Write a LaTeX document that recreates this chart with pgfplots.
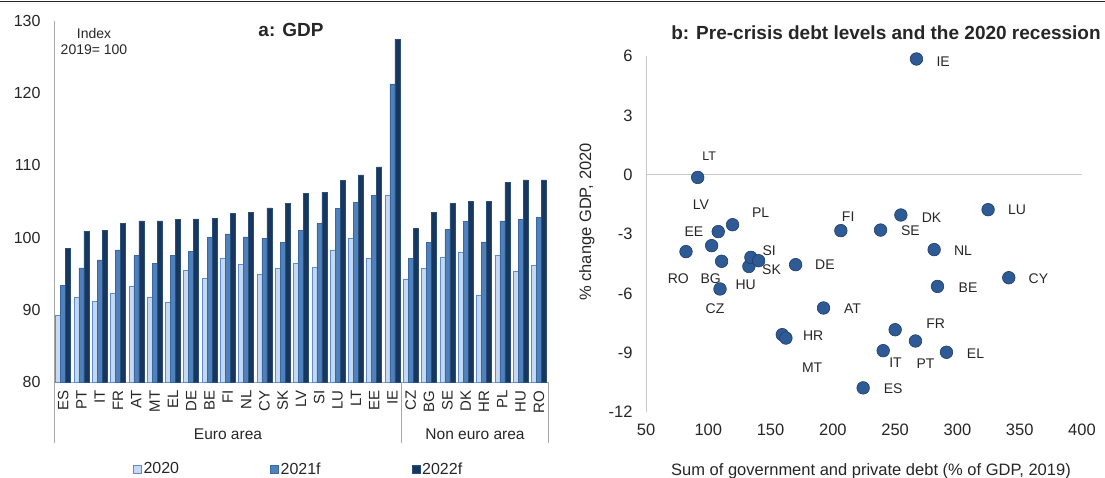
\documentclass[border=0pt]{standalone}
\usepackage{pgfplots}
\pgfplotsset{compat=1.18}
\usepackage{fontspec}
\setmainfont{Liberation Sans}
\definecolor{cA}{HTML}{C6D9F1}
\definecolor{cAb}{HTML}{5B8DD0}
\definecolor{cB}{HTML}{4F81BD}
\definecolor{cBb}{HTML}{3A68A3}
\definecolor{cC}{HTML}{17375E}
\definecolor{cCb}{HTML}{2A4D7A}
\definecolor{axg}{HTML}{A6A6A6}
\definecolor{zg}{HTML}{C8C8C8}
\definecolor{dotf}{HTML}{2E5B95}
\definecolor{dotb}{HTML}{1F3D66}
\definecolor{txt}{HTML}{262626}
\newcommand{\fs}[1]{\fontsize{#1}{#1}\selectfont}

\pgfplotstableread{
idx c y20 y21 y22
0 ES 89.3 93.4 98.5
1 PT 91.7 95.8 100.9
2 IT 91.2 96.9 101.0
3 FR 92.3 98.3 102.0
4 AT 93.3 97.5 102.3
5 MT 91.8 96.4 102.3
6 EL 91.1 97.5 102.5
7 DE 95.5 98.1 102.6
8 BE 94.4 100.0 102.7
9 FI 97.2 100.5 103.4
10 NL 96.3 100.1 103.5
11 CY 94.9 99.9 104.1
12 SK 95.7 99.35 104.7
13 LV 96.4 101.0 106.1
14 SI 95.9 102.0 106.3
15 LU 98.3 104.0 107.9
16 LT 99.9 104.9 108.7
17 EE 97.1 105.85 109.8
18 IE 105.9 121.3 127.5
19 CZ 94.3 97.1 101.3
20 BG 95.7 99.35 103.5
21 SE 97.3 101.1 104.7
22 DK 98.0 102.25 105.0
23 HR 92.0 99.4 105.0
24 PL 97.5 102.3 107.6
25 HU 95.4 102.5 108.0
26 RO 96.2 102.85 108.0
}\gdp

\pgfplotstableread{
x y c
267.1 5.85 IE
91.5 -0.14 LT
119.5 -2.53 PL
108.0 -2.88 EE
102.7 -3.59 LV
206.4 -2.83 FI
254.6 -2.04 DK
238.3 -2.80 SE
324.6 -1.77 LU
82.1 -3.89 RO
110.7 -4.38 BG
132.6 -4.64 HU
109.4 -5.78 CZ
134.2 -4.18 SI
140.4 -4.35 SK
170.1 -4.55 DE
192.5 -6.74 AT
159.4 -8.09 HR
162.3 -8.26 MT
224.3 -10.78 ES
281.3 -3.79 NL
341.2 -5.21 CY
284.0 -5.65 BE
250.0 -7.84 FR
266.3 -8.41 PT
240.4 -8.90 IT
291.2 -8.98 EL
}\debt

\begin{document}
\begin{tikzpicture}
\useasboundingbox (0pt,0pt) rectangle (1105pt,477pt);
\draw[line width=1.5pt, black!85] (0pt,475.5pt) -- (1105pt,475.5pt);

% ---------- panel a ----------
\begin{axis}[
  at={(54pt,95pt)}, anchor=south west, scale only axis,
  width=494pt, height=361pt,
  ymin=80, ymax=130, ytick={80,90,...,130},
  yticklabels={80,90,100,110,120,130},
  xmin=-0.5, xmax=26.5,
  xtick={0,...,26},
  xticklabels={ES,PT,IT,FR,AT,MT,EL,DE,BE,FI,NL,CY,SK,LV,SI,LU,LT,EE,IE,CZ,BG,SE,DK,HR,PL,HU,RO},
  ybar=0pt, bar width=5pt,
  axis x line*=bottom, axis y line*=left,
  axis line style={draw=axg, line width=0.8pt},
  major tick length=0pt,
  yticklabel style={font=\fs{16}, text=txt, xshift=-10pt},
  xticklabel style={font=\fs{15}, text=txt, yshift=-5pt, rotate=90, anchor=east},
  legend columns=3,
  legend style={at={(axis description cs:0.16,-0.241)}, anchor=west, draw=none, fill=none,
    inner sep=0pt, outer sep=0pt, font=\fs{16}, text=txt,
    nodes={inner sep=2pt},
    /tikz/every even column/.append style={column sep=89pt}},
  legend cell align=left,
  legend image code/.code={\draw[#1] (0pt,-4pt) rectangle (8pt,4pt);},
]
\addplot[fill=cA, draw=cAb, line width=0.5pt] table[x=idx, y=y20] {\gdp};
\addplot[fill=cB, draw=cBb, line width=0.5pt] table[x=idx, y=y21] {\gdp};
\addplot[fill=cC, draw=cCb, line width=0.5pt] table[x=idx, y=y22] {\gdp};
\legend{2020,2021f,2022f}
\end{axis}
\draw[axg, line width=0.8pt] (54pt,95pt) -- (54pt,34pt);
\draw[axg, line width=0.8pt] (401.6pt,95pt) -- (401.6pt,34pt);
\draw[axg, line width=0.8pt] (548pt,95pt) -- (548pt,34pt);
\node[font=\fs{15.5}, text=txt] at (228pt,43pt) {Euro area};
\node[font=\fs{15.5}, text=txt] at (475pt,43pt) {Non euro area};
\node[font=\bfseries\fs{19}, text=txt] at (291pt,447pt) {a: GDP};
\node[font=\fontsize{14}{16}\selectfont, text=txt, align=center] at (94pt,436pt) {Index\\2019= 100};

% ---------- panel b ----------
\begin{axis}[
  at={(646pt,65pt)}, anchor=south west, scale only axis,
  width=436pt, height=356pt,
  xmin=50, xmax=400, ymin=-12, ymax=6,
  xtick={50,100,...,400}, xticklabels={50,100,150,200,250,300,350,400},
  ytick={-12,-9,...,6}, yticklabels={-12,-9,-6,-3,0,3,6},
  axis x line*=bottom, axis y line*=left,
  x axis line style={draw=none},
  y axis line style={draw=zg, line width=1pt},
  major tick length=0pt, clip=false,
  xticklabel style={font=\fs{16.5}, text=txt, yshift=-8pt},
  yticklabel style={font=\fs{16.5}, text=txt, xshift=-10pt},
]
\draw[zg, line width=1pt] (axis cs:50,0) -- (axis cs:400,0);
\addplot[only marks, mark=*, mark size=6.3pt,
  mark options={fill=dotf, draw=dotb, line width=0.6pt}] table[x=x, y=y] {\debt};
\begin{scope}[every node/.style={font=\fs{14}, text=txt}]
\node at (axis cs:288.5,5.70) {IE};
\node[font=\fs{12.5}] at (axis cs:100.8,0.91) {LT};
\node at (axis cs:94.1,-1.52) {LV};
\node at (axis cs:142.0,-1.92) {PL};
\node at (axis cs:88.5,-2.86) {EE};
\node at (axis cs:212.3,-2.12) {FI};
\node at (axis cs:279.2,-2.15) {DK};
\node at (axis cs:262.3,-2.83) {SE};
\node at (axis cs:347.9,-1.75) {LU};
\node at (axis cs:148.9,-3.84) {SI};
\node at (axis cs:150.8,-4.8) {SK};
\node at (axis cs:193.6,-4.56) {DE};
\node at (axis cs:75.9,-5.27) {RO};
\node at (axis cs:101.9,-5.27) {BG};
\node at (axis cs:130.0,-5.58) {HU};
\node at (axis cs:105.4,-6.79) {CZ};
\node at (axis cs:215.8,-6.76) {AT};
\node at (axis cs:184.2,-8.14) {HR};
\node at (axis cs:183.4,-9.74) {MT};
\node at (axis cs:304.5,-3.84) {NL};
\node at (axis cs:365.0,-5.27) {CY};
\node at (axis cs:308.5,-5.7) {BE};
\node at (axis cs:282.6,-7.55) {FR};
\node at (axis cs:250.3,-9.52) {IT};
\node at (axis cs:274.4,-9.57) {PT};
\node at (axis cs:314.5,-9.07) {EL};
\node at (axis cs:248.4,-10.83) {ES};
\end{scope}
\end{axis}
\node[font=\bfseries\fs{19}, text=txt] at (886pt,444pt) {b: Pre-crisis debt levels and the 2020 recession};
\node[font=\fs{16.5}, text=txt, anchor=base] at (871pt,2pt) {Sum of government and private debt (\% of GDP, 2019)};
\node[font=\fs{16.5}, text=txt, rotate=90, anchor=base] at (591pt,255pt) {\% change GDP, 2020};
\end{tikzpicture}
\end{document}
